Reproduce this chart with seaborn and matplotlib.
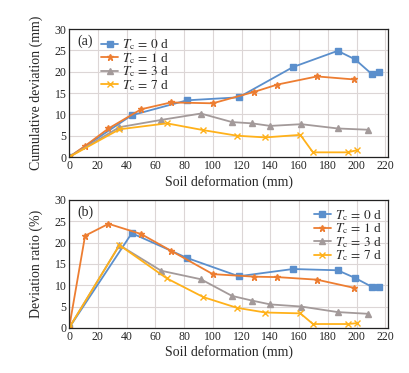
import numpy as np
import pandas as pd
import matplotlib
matplotlib.use('Agg')
import matplotlib.pyplot as plt
import seaborn as sns

#%% Data
labels = [r'$T_\mathrm{c}\,{=}\,0$ d', r'$T_\mathrm{c}\,{=}\,1$ d', r'$T_\mathrm{c}\,{=}\,3$ d', r'$T_\mathrm{c}\,{=}\,7$ d']

# soil deformation (mm)
x_0d = [0, 43.6, 82, 118, 155.8, 186.9, 199, 210.8, 215.4]
x_1d = [0, 11.1, 27.4, 50.1, 70.8, 100, 129, 145, 172.5, 198]
x_3d = [0, 35, 64, 91.7, 113.3, 127.2, 140, 161.6, 186.9, 208]
x_7d = [0, 35, 68, 93.5, 116.8, 136.5, 160.9, 169.7, 193.8, 200.3]

# cumulative deviation (mm)
cum_0d = [0, 9.8, 13.3, 14.0, 21.1, 24.9, 22.9, 19.4, 20.0]
cum_1d = [0, 2.6, 6.7, 11.2, 12.8, 12.6, 15.3, 17.0, 18.9, 18.2]
cum_3d = [0, 7.0, 8.7, 10.2, 8.2, 7.9, 7.3, 7.7, 6.7, 6.4]
cum_7d = [0, 6.5, 7.9, 6.3, 5.0, 4.6, 5.2, 1.1, 1.1, 1.6]

# deviation ratio (%)
rat_0d = [0, 22.2, 16.4, 12.1, 13.8, 13.5, 11.7, 9.6, 9.6]
rat_1d = [0, 21.6, 24.4, 22.0, 18.1, 12.6, 12.0, 11.9, 11.3, 9.4]
rat_3d = [0, 19.4, 13.4, 11.4, 7.5, 6.4, 5.5, 5.0, 3.7, 3.3]
rat_7d = [0, 19.4, 11.6, 7.2, 4.7, 3.6, 3.4, 0.9, 0.9, 1.1]

xs   = [x_0d, x_1d, x_3d, x_7d]
cums = [cum_0d, cum_1d, cum_3d, cum_7d]
rats = [rat_0d, rat_1d, rat_3d, rat_7d]

colors  = ['#5B8FCC', '#ED7D31', '#A39A9A', '#FFB11A']
markers = ['s', '*', '^', 'x']
msizes  = [4.5, 4.5, 4.5, 4.5]

#%% Plot
sns.set_style('white')
plt.rcParams['font.family'] = ['Liberation Serif', 'DejaVu Serif']
plt.rcParams['mathtext.fontset'] = 'stix'

fig = plt.figure(figsize=(4.09, 3.73), dpi=100)
ax1 = fig.add_axes([0.169, 0.579, 0.78, 0.343])
ax2 = fig.add_axes([0.169, 0.121, 0.78, 0.343])

for ax, ydata, ylab in zip([ax1, ax2], [cums, rats], ['Cumulative deviation (mm)', 'Deviation ratio (%)']):
    for i in range(4):
        sns.lineplot(x=xs[i], y=ydata[i], ax=ax, color=colors[i], marker=markers[i],
                     markersize=msizes[i], markeredgecolor=colors[i], markeredgewidth=1,
                     linewidth=1.3, sort=False, estimator=None, label=labels[i])
    ax.set_xlim(0, 222)
    ax.set_ylim(0, 30)
    ax.set_xticks(np.arange(0, 221, 20))
    ax.set_yticks(np.arange(0, 31, 5))
    ax.grid(True, color='#dcd6d6', linewidth=0.8)
    ax.tick_params(direction='in', length=3, width=0.8, labelsize=8.5, pad=2)
    for s in ax.spines.values():
        s.set_color('#222222')
        s.set_linewidth(0.9)
    ax.set_xlabel('Soil deformation (mm)', fontsize=10, labelpad=2)
    ax.set_ylabel(ylab, fontsize=10, labelpad=8)

ax1.text(0.025, 0.955, '(a)', transform=ax1.transAxes, fontsize=10, va='top', ha='left')
ax2.text(0.025, 0.955, '(b)', transform=ax2.transAxes, fontsize=10, va='top', ha='left')

ax1.legend(loc='upper left', bbox_to_anchor=(0.08, 0.985), frameon=False, fontsize=9.5,
           borderpad=0, handlelength=1.3, handletextpad=0.3, labelspacing=-0.1)
ax2.legend(loc='upper right', bbox_to_anchor=(1.0, 0.99), frameon=False, fontsize=9.5,
           borderpad=0, handlelength=1.3, handletextpad=0.3, labelspacing=-0.1)

fig.savefig('out.png', dpi=100)
